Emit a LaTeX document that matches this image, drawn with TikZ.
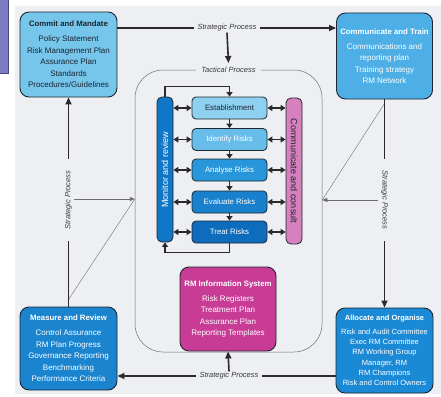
\documentclass[tikz,border=0pt]{standalone}
\usepackage{fontspec}
\setmainfont{Liberation Sans}
\usetikzlibrary{arrows.meta}
\definecolor{bg}{HTML}{EDEFF2}
\definecolor{edge}{HTML}{1E2630}
\definecolor{lineblk}{HTML}{2A2A2A}
\definecolor{labelc}{HTML}{3A3A3A}
\definecolor{thinc}{HTML}{6E6E6E}
\definecolor{stripe}{HTML}{7C7CC0}
\definecolor{stripeedge}{HTML}{44447E}
\definecolor{cCommit}{HTML}{76C6EC}
\definecolor{cComm}{HTML}{4DAFE6}
\definecolor{cMeas}{HTML}{1A84CF}
\definecolor{cAlloc}{HTML}{1B8AD6}
\definecolor{cRM}{HTML}{C83C96}
\definecolor{cEst}{HTML}{8ED0F0}
\definecolor{cIdr}{HTML}{67BCEA}
\definecolor{cAna}{HTML}{2896DB}
\definecolor{cEva}{HTML}{1880CC}
\definecolor{cTrt}{HTML}{0D6CBC}
\definecolor{cMon}{HTML}{1077C6}
\definecolor{cCon}{HTML}{D681BE}
\definecolor{darktext}{HTML}{1B2430}
\begin{document}
\begin{tikzpicture}[x=1pt,y=-1pt,
 box/.style={draw=edge, line width=0.9pt, rounded corners=9pt, align=center, inner sep=0pt, font=\fontsize{8}{11.5}\selectfont},
 stepbox/.style={draw=edge, line width=0.8pt, rounded corners=4pt, minimum width=75, minimum height=22, inner sep=0pt, font=\fontsize{7.8}{9}\selectfont},
 bar/.style={draw=edge, line width=0.8pt, rounded corners=5pt, minimum width=16, inner sep=0pt},
 barlabel/.style={font=\fontsize{9}{11}\selectfont, inner sep=0pt},
 slabel/.style={fill=bg, font=\fontsize{7.5}{9}\selectfont\itshape, text=labelc, inner ysep=1pt, inner xsep=4pt},
 sline/.style={line width=1.6pt, draw=lineblk},
 sarrow/.style={sline, -{Triangle[length=7pt,width=6pt]}},
 flow/.style={line width=1.5pt, draw=lineblk, -{Triangle[length=4.5pt,width=6pt]}},
 dbl/.style={line width=1.5pt, draw=lineblk, {Triangle[length=5pt,width=6pt]}-{Triangle[length=5pt,width=6pt]}},
 thinarrow/.style={line width=0.8pt, draw=thinc, -{Triangle[length=5pt,width=4pt]}},
 thinline/.style={line width=0.4pt, draw=thinc},
]
\useasboundingbox (0,0) rectangle (441,396);
\fill[white] (0,0) rectangle (441,396);
\fill[bg] (15,6) rectangle (441,394);
\draw[fill=stripe, draw=stripeedge, line width=0.8pt] (-1,-1) rectangle (8,73);

% tactical frame
\node[draw=thinc, line width=0.5pt, rounded corners=28pt, minimum width=187, minimum height=282, inner sep=0pt] (tbox) at (228.5,211) {};

% corner boxes
\node[box, fill=cCommit, text=darktext, minimum width=97, minimum height=85] (commit) at (68.5,54.5)
 {\textbf{\fontsize{7.8}{9}\selectfont Commit and Mandate}\\[3.5pt]Policy Statement\\Risk Management Plan\\Assurance Plan\\Standards\\Procedures/Guidelines};
\node[box, fill=cComm, text=white, minimum width=96, minimum height=86] (comm) at (384.5,56)
 {\textbf{\fontsize{7.8}{9}\selectfont Communicate and Train}\\[3.5pt]Communications and\\reporting plan\\Training strategy\\RM Network};
\node[box, fill=cMeas, text=white, minimum width=97, minimum height=83] (meas) at (68.5,348.5)
 {\textbf{\fontsize{7.8}{9}\selectfont Measure and Review}\\[3.5pt]Control Assurance\\RM Plan Progress\\Governance Reporting\\Benchmarking\\Performance Criteria};
\node[box, fill=cAlloc, text=white, minimum width=97, minimum height=85, font=\fontsize{7.5}{10.2}\selectfont] (alloc) at (384.5,350.5)
 {\textbf{Allocate and Organise}\\[3.5pt]Risk and Audit Committee\\Exec RM Committee\\RM Working Group\\Manager, RM\\RM Champions\\Risk and Control Owners};
\node[box, fill=cRM, text=white, minimum width=96, minimum height=84] (rm) at (228,309)
 {\textbf{\fontsize{7.8}{9}\selectfont RM Information System}\\[3.5pt]Risk Registers\\Treatment Plan\\Assurance Plan\\Reporting Templates};

% side bars
\node[bar, fill=cMon, minimum height=145] (mon) at (165,169.5) {};
\node[barlabel, rotate=90, text=white] (monlbl) at (mon) {Monitor and review};
\node[bar, fill=cCon, minimum height=146] (con) at (294,171) {};
\node[barlabel, rotate=-90, text=darktext] (conlbl) at (con) {Communicate and consult};

% steps
\node[stepbox, fill=cEst, text=darktext] (est) at (229.5,108) {Establishment};
\node[stepbox, fill=cIdr, text=white] (idr) at (229.5,139.5) {Identify Risks};
\node[stepbox, fill=cAna, text=white] (ana) at (229.5,170) {Analyse Risks};
\node[stepbox, fill=cEva, text=white] (eva) at (229.5,202) {Evaluate Risks};
\node[stepbox, fill=cTrt, text=white] (trt) at (229.5,232) {Treat Risks};

\draw[flow] (est.south) -- (idr.north);
\draw[flow] (idr.south) -- (ana.north);
\draw[flow] (ana.south) -- (eva.north);
\draw[flow] (eva.south) -- (trt.north);
\draw[flow] (mon.north) -- ++(0,-10) -| (est.north);
\draw[flow] (trt.south) -- ++(0,9) -| (mon.south);

\foreach \s in {est,idr,ana,eva,trt}{
  \draw[dbl] (mon.east |- \s.west) -- (\s.west);
  \draw[dbl] (\s.east) -- (con.west |- \s.east);
}

% strategic process: top
\draw[sarrow] (commit.east |- 0,28) -- (comm.west |- 0,28);
\node[slabel] (stop) at (227,28) {Strategic Process};
\node[slabel, inner xsep=5pt] (tac) at (228.5,70) {Tactical Process};
\draw[sarrow] (stop.south) -- ([yshift=3pt]tac.north);

% strategic process: bottom
\draw[sarrow] (alloc.west |- 0,376) -- (meas.east |- 0,376);
\node[slabel] (sbot) at (229,376) {Strategic Process};
\draw[sarrow] (sbot.north) -- (rm.south);

% strategic process: left
\coordinate (ldb) at ([yshift=7pt]meas.north);
\coordinate (lh) at (74,199);
\draw[thinline] (ldb) -- (lh -| tbox.west);
\draw[thinarrow] (lh) -- (lh -| tbox.west);
\draw[sarrow] (meas.north) -- (commit.south);
\node[slabel, rotate=90, inner xsep=12pt] (sleft) at (68.5,200) {Strategic Process};

% strategic process: right
\coordinate (rdt) at ([yshift=-4pt]comm.south);
\coordinate (rh) at (378,200);
\draw[thinline] (rdt) -- (rh -| tbox.east);
\draw[thinarrow] (rh) -- (rh -| tbox.east);
\draw[sarrow] (comm.south) -- (alloc.north);
\node[slabel, rotate=-90, inner xsep=12pt] (sright) at (384.5,200) {Strategic Process};
\end{tikzpicture}
\end{document}
